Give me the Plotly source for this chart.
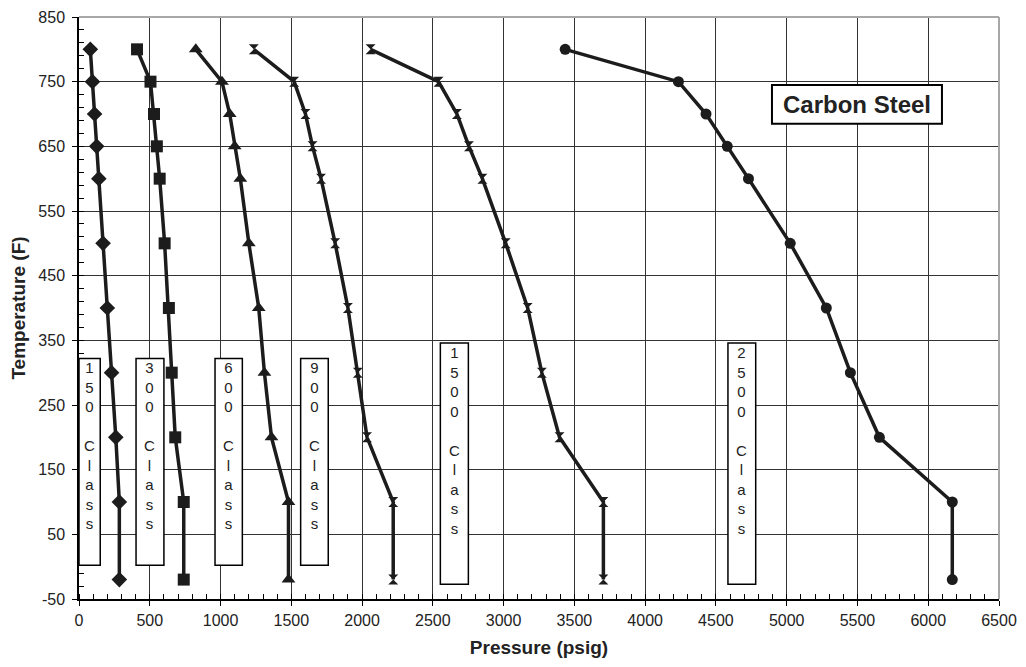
import plotly.graph_objects as go

# Temperaturas (F) comunes a todas las clases
temps = [-20, 100, 200, 300, 400, 500, 600, 650, 700, 750, 800]

# Presión admisible (psig) por clase, acero al carbono
class150 = [285, 285, 260, 230, 200, 170, 140, 125, 110, 95, 80]
class300 = [740, 740, 680, 655, 635, 605, 570, 550, 530, 505, 410]
class600 = [1480, 1480, 1360, 1310, 1270, 1200, 1140, 1100, 1065, 1010, 825]
class900 = [2220, 2220, 2035, 1970, 1900, 1810, 1710, 1650, 1600, 1520, 1235]
class1500 = [3705, 3705, 3395, 3270, 3170, 3015, 2850, 2755, 2670, 2540, 2060]
class2500 = [6170, 6170, 5655, 5450, 5280, 5025, 4730, 4580, 4430, 4235, 3435]

class_names = ["150", "300", "600", "900", "1500", "2500"]
x_ticks = list(range(0, 6501, 500))
y_ticks = list(range(-50, 851, 100))
y_tick_text = [str(v) for v in y_ticks]  # guion normal en "-50"

series = [class150, class300, class600, class900, class1500, class2500]
symbols = ["diamond", "square", "triangle-up", "hourglass", "hourglass", "circle"]
sizes = [12, 12, 12, 10, 10, 11]

# cajas de etiqueta (x0, x1, y0, y1) en unidades de datos
label_boxes = [
    (0, 150, 2, 322),
    (403, 600, 2, 322),
    (961, 1154, 2, 322),
    (1566, 1761, 2, 322),
    (2553, 2751, -27, 346),
    (4585, 4781, -27, 346),
]

FONT = "Arial, Liberation Sans, sans-serif"
INK = "#1c1c1c"

fig = go.Figure()

for vals, sym, sz, name in zip(series, symbols, sizes, class_names):
    fig.add_trace(go.Scatter(
        x=vals, y=temps,
        mode="lines+markers",
        name=name + " Class",
        line=dict(color=INK, width=3.5),
        marker=dict(symbol=sym, size=sz, color=INK, line=dict(width=0)),
    ))

for (x0, x1, y0, y1), name in zip(label_boxes, class_names):
    fig.add_shape(type="rect", xref="x", yref="y", x0=x0, x1=x1, y0=y0, y1=y1,
                  line=dict(color="black", width=1.5), fillcolor="white", layer="above")
    txt = "<br>".join(list(name)) + "<br><br>" + "<br>".join(list("Class"))
    fig.add_annotation(x=(x0 + x1) / 2, y=y1, xref="x", yref="y", text=txt,
                       showarrow=False, yanchor="top", yshift=1,
                       font=dict(family=FONT, size=15, color="#222"))

# caja "Carbon Steel"
fig.add_shape(type="rect", xref="x", yref="y", x0=4896, x1=6097, y0=685, y1=745,
              line=dict(color="black", width=2), fillcolor="white", layer="above")
fig.add_annotation(x=(4896 + 6097) / 2, y=715, xref="x", yref="y", text="<b>Carbon Steel</b>",
                   showarrow=False, font=dict(family=FONT, size=24, color="#222"))

# borde superior y derecho gris
fig.add_shape(type="line", xref="paper", yref="paper", x0=0, x1=1, y0=1, y1=1,
              line=dict(color="#a8a8a8", width=2))
fig.add_shape(type="line", xref="paper", yref="paper", x0=1, x1=1, y0=0, y1=1,
              line=dict(color="#a8a8a8", width=2))

fig.update_xaxes(
    range=[0, 6500], tickvals=x_ticks, ticks="outside", ticklen=5, tickcolor="black",
    showgrid=True, gridcolor="#333", gridwidth=1, zeroline=False, automargin=False,
    showline=True, linecolor="black", linewidth=1.5, ticklabeloverflow="allow",
    minor=dict(dtick=100, ticks="inside", ticklen=5, tickcolor="black", showgrid=False),
    tickfont=dict(family=FONT, size=16, color="#222"), ticklabelstandoff=1,
    title=dict(text="<b>Pressure (psig)</b>", font=dict(family=FONT, size=19, color="#222"), standoff=13),
)
fig.update_yaxes(
    range=[-50, 850], tickvals=y_ticks, ticktext=y_tick_text, ticks="outside", ticklen=5,
    tickcolor="black", showgrid=True, gridcolor="#333", gridwidth=1, zeroline=False,
    automargin=False, showline=True, linecolor="black", linewidth=1.5, ticklabeloverflow="allow",
    minor=dict(tick0=-50, dtick=20, ticks="inside", ticklen=5, tickcolor="black", showgrid=False),
    tickfont=dict(family=FONT, size=16, color="#222"), ticklabelstandoff=4,
    title=dict(text="<b>Temperature (F)</b>", font=dict(family=FONT, size=19, color="#222"), standoff=8),
)

# la página añade 8 px de margen al cuerpo, se compensa aquí
fig.update_layout(
    width=1010, height=651,
    margin=dict(l=71, r=19, t=9, b=60),
    paper_bgcolor="white", plot_bgcolor="white",
    showlegend=False,
)

fig.write_html("out.html")
